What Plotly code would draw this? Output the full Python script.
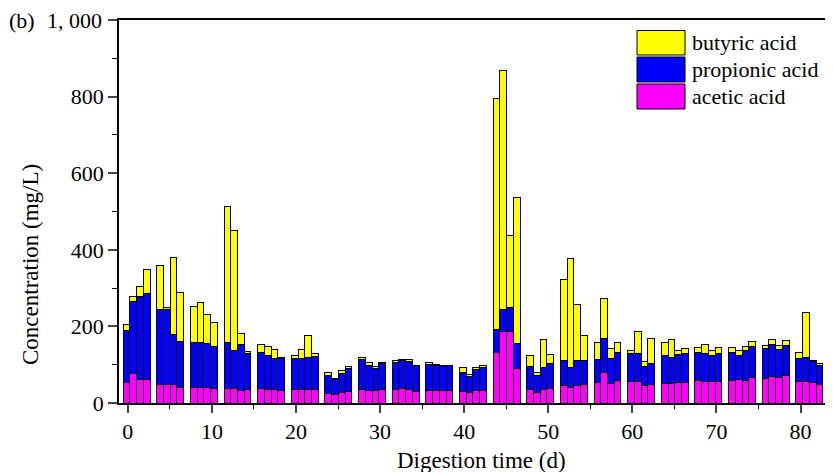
import plotly.graph_objects as go

days = list(range(84))
acetic = [54, 78, 62, 61, 49, 48, 48, 41, 40, 40, 40, 38, 37, 37, 32, 36,
          37, 34, 34, 33, 34, 34, 35, 34, 24, 22, 27, 31, 36, 32, 32, 35,
          35, 37, 36, 31, 32, 32, 32, 32, 30, 27, 32, 33, 131, 188, 188, 91,
          35, 27, 34, 37, 47, 40, 45, 49, 53, 79, 51, 58, 55, 57, 45, 49,
          51, 52, 53, 54, 58, 56, 55, 57, 58, 61, 59, 66, 64, 70, 66, 71,
          57, 57, 53, 49]
propionic = [136, 186, 217, 226, 194, 195, 132, 120, 117, 118, 116, 109, 120, 99, 122, 92,
             96, 90, 83, 83, 83, 83, 85, 87, 49, 40, 51, 60, 78, 65, 59, 67,
             70, 73, 72, 66, 69, 65, 65, 65, 50, 43, 56, 59, 61, 55, 61, 64,
             61, 46, 60, 65, 63, 52, 66, 63, 61, 89, 64, 74, 73, 71, 50, 55,
             73, 67, 73, 76, 75, 74, 70, 73, 75, 63, 77, 82, 78, 83, 74, 80,
             58, 63, 56, 50]
butyric = [15, 14, 25, 61, 117, 7, 199, 127, 94, 104, 74, 63, 355, 314, 28, 6,
           19, 23, 22, 3, 7, 22, 57, 9, 7, 3, 6, 5, 5, 8, 4, 3,
           5, 3, 6, 2, 6, 4, 2, 2, 14, 5, 4, 5, 602, 624, 189, 382,
           28, 7, 72, 25, 213, 286, 145, 63, 43, 106, 27, 25, 8, 58, 13, 65,
           33, 47, 12, 12, 12, 24, 13, 16, 13, 14, 11, 13, 9, 13, 11, 11,
           18, 117, 2, 3]

y_tickvals = [0, 200, 400, 600, 800, 1000]
y_ticktext = ["0", "200", "400", "600", "800", "1, 000"]
x_tickvals = [0, 10, 20, 30, 40, 50, 60, 70, 80]

# bars are laid out in groups of four with an empty slot between groups
slot_w = 0.8
xpos = [slot_w * (d + d // 4) - 0.16 for d in days]

FONT = "Liberation Serif, Times New Roman, serif"
series = [("acetic acid", acetic, "#FF00FF"),
          ("propionic acid", propionic, "#0000FF"),
          ("butyric acid", butyric, "#FFFF00")]

fig = go.Figure()
for name, vals, col in series:
    fig.add_trace(go.Bar(x=xpos, y=vals, name=name, width=slot_w,
                         marker=dict(color=col, line=dict(color="black", width=1)),
                         showlegend=False))

# the top tick label would overflow the figure edge (plotly hides it), so it is
# drawn as an annotation at the same tick value
axis_ticktext = y_ticktext[:-1] + [""]

# page body has an 8px margin, so the figure is offset by (8, 8)
fig.update_layout(
    width=825, height=464, barmode="stack",
    margin=dict(l=111, r=0, t=12, b=69, autoexpand=False),
    plot_bgcolor="white", paper_bgcolor="white",
    font=dict(family=FONT, size=22, color="black"),
    xaxis=dict(range=[-1.05, 83.86], tickvals=x_tickvals, ticks="outside", ticklen=8,
               tickwidth=1.5, showline=True, linewidth=1.5, linecolor="black", mirror=True,
               showgrid=False, zeroline=False, automargin=False,
               minor=dict(ticks="outside", ticklen=4, dtick=5, tick0=5, tickwidth=1.2,
                          tickcolor="black"),
               tickfont=dict(size=22)),
    yaxis=dict(range=[0, 1000], tickvals=y_tickvals, ticktext=axis_ticktext, ticks="outside",
               ticklen=9, tickwidth=1.5, showline=True, linewidth=1.5, linecolor="black",
               showgrid=False, zeroline=False, automargin=False,
               minor=dict(ticks="outside", ticklen=5, dtick=100, tick0=100, tickwidth=1.2,
                          tickcolor="black"),
               tickfont=dict(size=22)),
)

fig.add_annotation(xref="x domain", yref="y", x=-0.021, y=y_tickvals[-1],
                   text=y_ticktext[-1], showarrow=False, xanchor="right", yanchor="middle",
                   font=dict(size=22))

# pixel helpers relative to the plot area (x 119..833, y 20..403 on the page)
plot_l, plot_w, plot_b, plot_h = 119, 714, 403, 383
def px(x):
    return (x - plot_l) / plot_w
def py(y):
    return (plot_b - y) / plot_h

legend_items = [("butyric acid", "#FFFF00", 30.5, 55), ("propionic acid", "#0000FF", 57, 82),
                ("acetic acid", "#FF00FF", 84, 109)]
for label, col, y0, y1 in legend_items:
    fig.add_shape(type="rect", xref="paper", yref="paper", x0=px(637), x1=px(685),
                  y0=py(y1), y1=py(y0), fillcolor=col, line=dict(color="black", width=1))
    fig.add_annotation(xref="paper", yref="paper", x=px(690), y=py((y0 + y1) / 2),
                       text=label, showarrow=False, xanchor="left", yanchor="middle",
                       font=dict(size=22))

fig.add_annotation(xref="paper", yref="paper", x=px(7), y=py(20), text="(b)",
                   showarrow=False, xanchor="left", yanchor="middle", font=dict(size=22))
fig.add_annotation(xref="paper", yref="paper", x=px(30), y=py(265),
                   text="Concentration (mg/L)", textangle=-90, showarrow=False,
                   xanchor="center", yanchor="middle", font=dict(size=23))
fig.add_annotation(xref="paper", yref="paper", x=px(481), y=py(460),
                   text="Digestion time (d)", showarrow=False,
                   xanchor="center", yanchor="middle", font=dict(size=23))

fig.write_html("out.html")
